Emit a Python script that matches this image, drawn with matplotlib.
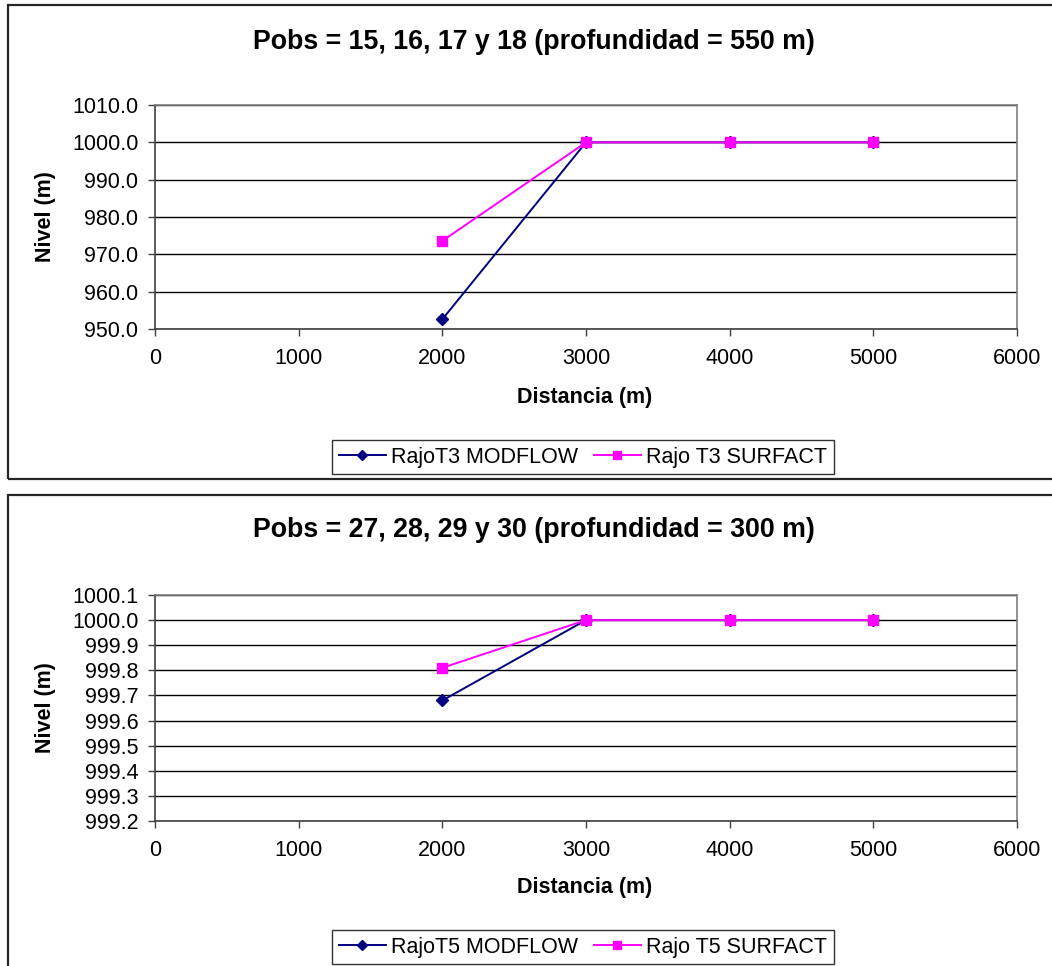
import matplotlib
matplotlib.use("Agg")
import matplotlib.pyplot as plt
from matplotlib.patches import Rectangle
from matplotlib.ticker import MultipleLocator, FormatStrFormatter

plt.rcParams['font.family'] = ['Liberation Sans', 'DejaVu Sans']

# Observation distances (m) and simulated water levels (m)
distances = [2000, 3000, 4000, 5000]
t3_modflow = [952.6, 1000.0, 1000.0, 1000.0]
t3_surfact = [973.6, 1000.0, 1000.0, 1000.0]
t5_modflow = [999.68, 1000.0, 1000.0, 1000.0]
t5_surfact = [999.81, 1000.0, 1000.0, 1000.0]

titles = ["Pobs = 15, 16, 17 y 18 (profundidad = 550 m)",
          "Pobs = 27, 28, 29 y 30 (profundidad = 300 m)"]
legend_labels = [("RajoT3 MODFLOW", "Rajo T3 SURFACT"),
                 ("RajoT5 MODFLOW", "Rajo T5 SURFACT")]
y_ranges = [(950.0, 1010.0, 10.0), (999.2, 1000.1, 0.1)]
x_range = (0, 6000, 1000)

W, H = 1052, 966
fig = plt.figure(figsize=(W / 100, H / 100), dpi=100)
fig.patch.set_facecolor("white")


def fx(px):
    return px / W


def fy(py):
    return 1 - py / H


# panel layout in pixels
panels = [
    dict(ptop=5, pbot=479, atop=105, abot=329, title_y=42, xlabel_y=397, leg_y=457),
    dict(ptop=495, pbot=1000, atop=595, abot=821, title_y=530, xlabel_y=887, leg_y=947),
]
series = [(t3_modflow, t3_surfact), (t5_modflow, t5_surfact)]

ax_left, ax_right = 155, 1017

for i, p in enumerate(panels):
    # chart frame
    fig.add_artist(Rectangle((fx(8), fy(p["pbot"])), fx(1200 - 8), fy(p["ptop"]) - fy(p["pbot"]),
                             transform=fig.transFigure, fill=False,
                             edgecolor="#262626", linewidth=1.6, clip_on=True))

    ax = fig.add_axes([fx(ax_left), fy(p["abot"]), fx(ax_right - ax_left),
                       fy(p["atop"]) - fy(p["abot"])])
    mod, surf = series[i]
    l1, = ax.plot(distances, mod, color="#000080", linewidth=1.4, marker="D",
                  markersize=6, markerfacecolor="#000080", markeredgecolor="#000080",
                  zorder=3, clip_on=False)
    l2, = ax.plot(distances, surf, color="#FF00FF", linewidth=1.4, marker="s",
                  markersize=7, markerfacecolor="#FF00FF", markeredgecolor="#FF00FF",
                  zorder=4, clip_on=False)

    ymin, ymax, ystep = y_ranges[i]
    ax.set_ylim(ymin, ymax)
    ax.set_xlim(x_range[0], x_range[1])
    ax.xaxis.set_major_locator(MultipleLocator(x_range[2]))
    ax.yaxis.set_major_locator(MultipleLocator(ystep))
    ax.yaxis.set_major_formatter(FormatStrFormatter("%.1f"))
    ax.grid(axis="y", color="black", linewidth=1.0)
    ax.set_axisbelow(True)

    for side in ("left", "bottom"):
        ax.spines[side].set_color("#404040")
        ax.spines[side].set_linewidth(1.2)
    for side in ("top", "right"):
        ax.spines[side].set_color("#808080")
        ax.spines[side].set_linewidth(1.2)

    ax.tick_params(axis="both", direction="out", length=5, width=1.0,
                   color="#404040", labelsize=15.5, labelcolor="black")
    ax.tick_params(axis="x", pad=8.5)
    ax.tick_params(axis="y", pad=7)

    fig.text(fx(534), fy(p["title_y"]), titles[i], ha="center", va="center",
             fontsize=19.3, fontweight="bold")
    fig.text(fx(585), fy(p["xlabel_y"]), "Distancia (m)", ha="center", va="center",
             fontsize=15.5, fontweight="bold")
    fig.text(fx(45), fy((p["atop"] + p["abot"]) / 2), "Nivel (m)", ha="center",
             va="center", rotation=90, fontsize=15.5, fontweight="bold")

    leg = fig.legend([l1, l2], list(legend_labels[i]), loc="center",
                     bbox_to_anchor=(fx(583), fy(p["leg_y"])), ncol=2,
                     fontsize=15.5, frameon=True, fancybox=False, shadow=False,
                     handlelength=2.2, handletextpad=0.25, columnspacing=0.7,
                     borderpad=0.3, markerscale=0.85)
    leg.get_frame().set_edgecolor("black")
    leg.get_frame().set_linewidth(1.0)

fig.savefig("out.png", dpi=100, facecolor="white")
